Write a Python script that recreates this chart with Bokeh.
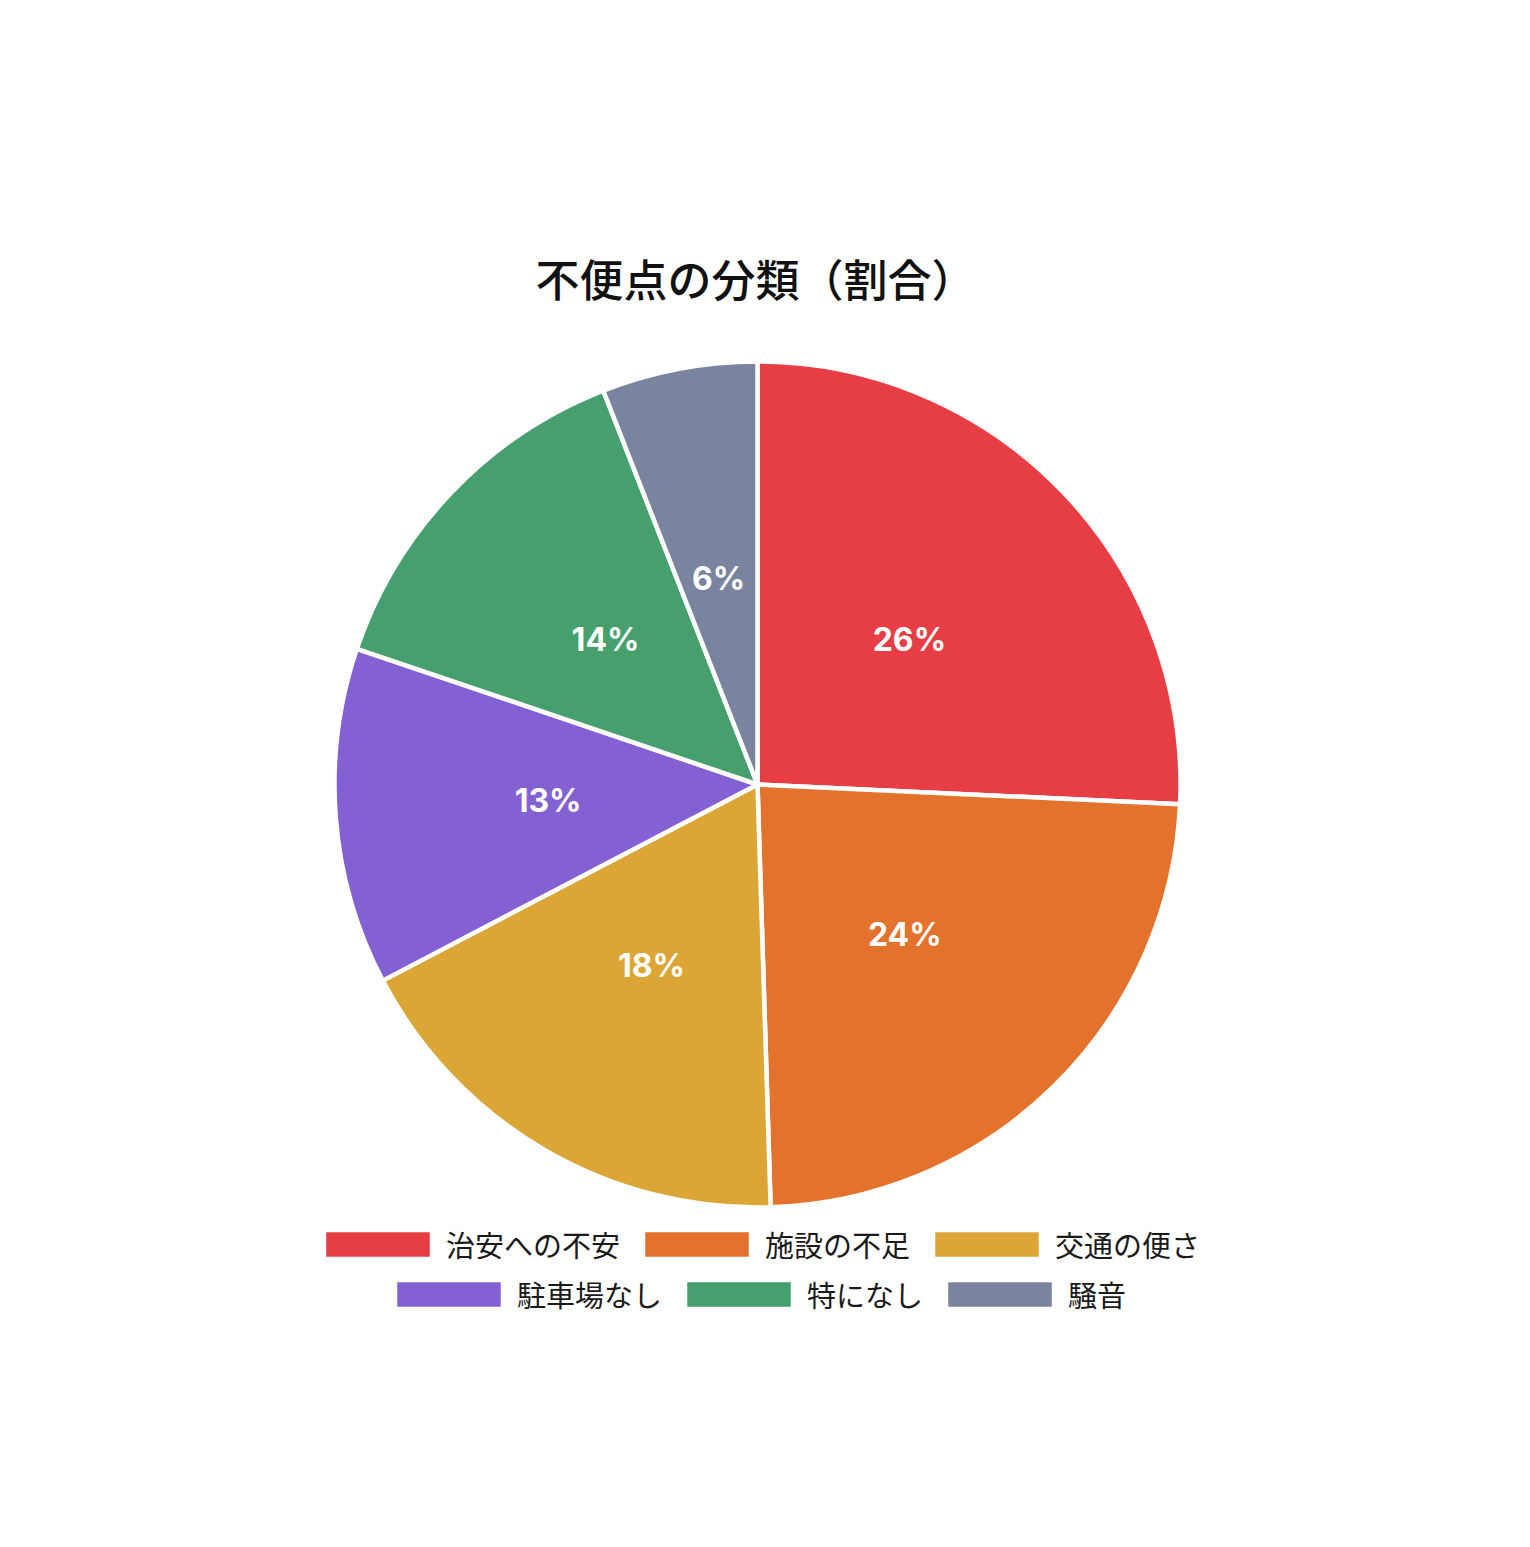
import numpy as np
from bokeh.plotting import figure
from bokeh.models import ColumnDataSource, Range1d, Legend, LegendItem, Label
from bokeh.core.properties import value
from bokeh.embed import file_html
from bokeh.resources import INLINE

title_text = "不便点の分類（割合）"
categories = ["治安への不安", "施設の不足", "交通の便さ", "駐車場なし", "特になし", "騒音"]
percents = [26, 24, 18, 13, 14, 6]
colors = ["#e63e44", "#e2722c", "#dba636", "#8461d3", "#46a06e", "#7a849e"]

W, H = 1514, 1531
cx, cy = 757, 747
R = 423

vals = np.array(percents, dtype=float)
frac = vals / vals.sum()
cum = np.concatenate([[0], np.cumsum(frac)])
start = np.pi / 2 - 2 * np.pi * cum[:-1]
end = np.pi / 2 - 2 * np.pi * cum[1:]
mid = (start + end) / 2
lr = 210
src = ColumnDataSource(dict(
    x=[cx] * len(vals), y=[cy] * len(vals), start=start, end=end, color=colors,
    lx=cx + lr * np.cos(mid), ly=cy + lr * np.sin(mid),
    label=[f"{v}%" for v in percents], cat=categories,
))

p = figure(width=W, height=H, output_backend="svg", toolbar_location=None,
           x_range=Range1d(0, W), y_range=Range1d(0, H), min_border=0,
           x_axis_location=None, y_axis_location=None)
p.grid.visible = False
p.outline_line_color = None
p.background_fill_color = "white"
p.border_fill_color = "white"

r = p.wedge(x="x", y="y", radius=R, start_angle="start", end_angle="end",
            direction="clock", fill_color="color", line_color="white",
            line_width=4.5, source=src)

p.text(x="lx", y="ly", text="label", source=src, text_color="white",
       text_font=value("Inter"), text_font_style="bold", text_font_size="32px",
       text_align="center", text_baseline="middle")

p.add_layout(Label(x=755, y=1254, text=title_text,
                   text_font="'Noto Sans CJK JP Medium', 'Noto Sans CJK JP'",
                   text_font_size="44px", text_color="#111111", text_align="center",
                   text_baseline="middle", text_font_style="normal"))

def make_legend(idx, loc, spacing):
    items = [LegendItem(label=categories[i], renderers=[r], index=i) for i in idx]
    lg = Legend(items=items, orientation="horizontal", location=loc,
                glyph_width=135, glyph_height=36, label_standoff=1, spacing=spacing,
                padding=0, margin=0, border_line_alpha=0, background_fill_alpha=0,
                label_text_font="Noto Sans CJK JP", label_text_font_size="29px",
                label_text_color="#1a1a1a")
    p.add_layout(lg, "center")

make_legend([0, 1, 2], (310, 266), 9)
make_legend([3, 4, 5], (381, 216), 9)

open("out.html", "w").write(file_html(p, INLINE))
